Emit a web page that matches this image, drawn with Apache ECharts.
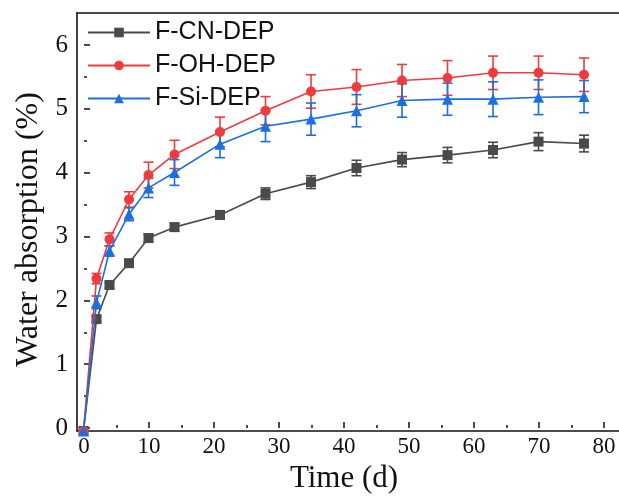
<!DOCTYPE html>
<html>
<head>
<meta charset="utf-8">
<script src="https://cdn.jsdelivr.net/npm/echarts@6/dist/echarts.min.js"></script>
<style>
  html, body { margin: 0; padding: 0; background: #fff; }
  #main { width: 619px; height: 499px; }
</style>
</head>
<body>
<div id="main"></div>
<script>
// time points (days)
var days = [0, 2, 4, 7, 10, 14, 21, 28, 35, 42, 49, 56, 63, 70, 77];

var cnMean = [0, 1.74, 2.27, 2.61, 3.0, 3.17, 3.36, 3.69, 3.87, 4.09, 4.22, 4.29, 4.37, 4.5, 4.47];
var cnErr  = [0, 0.04, 0.05, 0.05, 0.06, 0.06, 0.06, 0.09, 0.1, 0.12, 0.11, 0.12, 0.12, 0.14, 0.13];

var ohMean = [0, 2.37, 2.98, 3.6, 3.98, 4.3, 4.65, 4.98, 5.28, 5.35, 5.45, 5.49, 5.57, 5.57, 5.54];
var ohErr  = [0, 0.08, 0.1, 0.12, 0.2, 0.22, 0.23, 0.22, 0.26, 0.27, 0.25, 0.27, 0.26, 0.26, 0.26];

var siMean = [0, 2.0, 2.8, 3.37, 3.78, 4.02, 4.46, 4.74, 4.85, 4.98, 5.14, 5.16, 5.16, 5.19, 5.2];
var siErr  = [0, 0.1, 0.08, 0.1, 0.15, 0.2, 0.21, 0.24, 0.25, 0.25, 0.26, 0.25, 0.27, 0.27, 0.25];

var names = ['F-CN-DEP', 'F-OH-DEP', 'F-Si-DEP'];
var colors = ['#4a4a4a', '#ef3b3d', '#1c6fe0'];
var symbols = ['rect', 'circle', 'triangle'];

var serif = '"Liberation Serif", "Times New Roman", serif';
var sans = '"Liberation Sans", Arial, sans-serif';

function pts(mean) {
    var out = [];
    for (var i = 0; i < days.length; i++) out.push([days[i], mean[i]]);
    return out;
}
function bars(mean, err) {
    var out = [];
    for (var i = 0; i < days.length; i++) out.push([days[i], mean[i] - err[i], mean[i] + err[i]]);
    return out;
}

function errorBar(name, color, data) {
    return {
        name: name + ' err',
        type: 'custom',
        xAxisIndex: 0,
        yAxisIndex: 0,
        data: data,
        z: 1,
        silent: true,
        renderItem: function (params, api) {
            var x = api.value(0);
            var lo = api.coord([x, api.value(1)]);
            var hi = api.coord([x, api.value(2)]);
            var w = 5;
            var st = { stroke: color, lineWidth: 1.6 };
            return {
                type: 'group',
                children: [
                    { type: 'line', shape: { x1: lo[0], y1: lo[1], x2: hi[0], y2: hi[1] }, style: st },
                    { type: 'line', shape: { x1: lo[0] - w, y1: lo[1], x2: lo[0] + w, y2: lo[1] }, style: st },
                    { type: 'line', shape: { x1: hi[0] - w, y1: hi[1], x2: hi[0] + w, y2: hi[1] }, style: st }
                ]
            };
        }
    };
}

var means = [cnMean, ohMean, siMean];
var errs = [cnErr, ohErr, siErr];

var series = [];
for (var k = 0; k < 3; k++) {
    series.push(errorBar(names[k], colors[k], bars(means[k], errs[k])));
}
for (var k = 0; k < 3; k++) {
    series.push({
        name: names[k],
        type: 'line',
        xAxisIndex: 0,
        yAxisIndex: 0,
        data: pts(means[k]),
        symbol: symbols[k],
        symbolSize: k == 2 ? 11 : 10,
        showSymbol: true,
        z: 2 + k,
        lineStyle: { color: colors[k], width: 1.6 },
        itemStyle: { color: colors[k] }
    });
}

var frameLine = { show: true, onZero: false, lineStyle: { color: '#111', width: 1.6 } };
var noTick = { show: false };

var option = {
    backgroundColor: '#fff',
    animation: false,
    legend: {
        data: names,
        orient: 'vertical',
        left: 82,
        top: 15,
        itemWidth: 62,
        itemHeight: 12,
        itemGap: 8,
        selectedMode: false,
        textStyle: { fontFamily: sans, fontSize: 25, color: '#111' }
    },
    grid: [
        // data grid, carries the frame
        { left: 77, right: 0, top: 13, bottom: 68 },
        // tick / label grid
        { left: 84, right: 15, top: 45, bottom: 68 }
    ],
    xAxis: [
        {
            gridIndex: 0, type: 'value', min: -1, max: 82.38,
            axisLine: frameLine, axisTick: noTick,
            axisLabel: { show: false }, splitLine: { show: false }
        },
        {
            gridIndex: 1, type: 'value', min: 0, max: 80, interval: 10,
            name: 'Time (d)', nameLocation: 'middle', nameGap: 35,
            nameTextStyle: { fontFamily: serif, fontSize: 31, color: '#111' },
            axisLine: { show: false },
            axisTick: { show: true, inside: true, length: 6, lineStyle: { color: '#111', width: 1.5 } },
            minorTick: { show: true, splitNumber: 2, length: 3, lineStyle: { color: '#111', width: 1.5 } },
            axisLabel: { fontFamily: serif, fontSize: 23, color: '#111', margin: 7 },
            splitLine: { show: false }
        },
        {
            // top edge of the frame
            gridIndex: 0, type: 'value', position: 'top', min: -1, max: 82.38,
            axisLine: frameLine, axisTick: noTick,
            axisLabel: { show: false }, splitLine: { show: false }
        }
    ],
    yAxis: [
        {
            gridIndex: 0, type: 'value', min: 0, max: 6.5,
            axisLine: frameLine, axisTick: noTick,
            axisLabel: { show: false }, splitLine: { show: false }
        },
        {
            gridIndex: 1, type: 'value', min: 0, max: 6, interval: 1, offset: 7,
            name: 'Water absorption (%)', nameLocation: 'middle', nameGap: 30, nameRotate: 90,
            nameTextStyle: { fontFamily: serif, fontSize: 32, color: '#111', padding: [0, 0, 0, 14] },
            axisLine: { show: false },
            axisTick: { show: true, inside: true, length: 6, lineStyle: { color: '#111', width: 1.5 } },
            minorTick: { show: true, splitNumber: 2, length: 3, lineStyle: { color: '#111', width: 1.5 } },
            axisLabel: { fontFamily: serif, fontSize: 25, color: '#111', margin: 9 },
            splitLine: { show: false }
        }
    ],
    series: series
};

var chart = echarts.init(document.getElementById('main'));
chart.setOption(option);
</script>
</body>
</html>
